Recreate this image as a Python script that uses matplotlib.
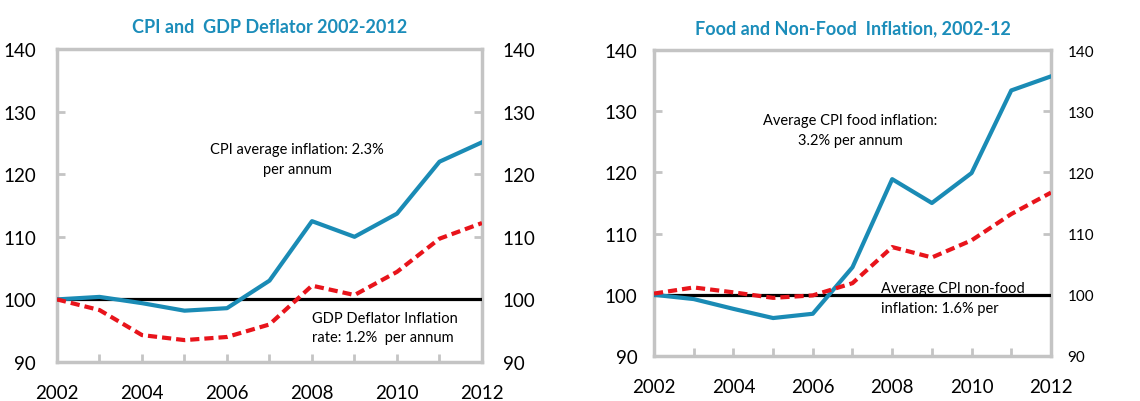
"""
CPI / GDP deflator and food / non-food CPI indices, 2002-2012 (2002 = 100)
"""

import matplotlib
matplotlib.use('Agg')
import matplotlib.pyplot as plt
import matplotlib as mpl

#%% global plot settings

mpl.rcParams['font.family'] = ['Lato', 'DejaVu Sans']
mpl.rcParams['xtick.direction'] = 'in'
mpl.rcParams['ytick.direction'] = 'in'

#%% data (index, 2002 = 100)

years = [2002, 2003, 2004, 2005, 2006, 2007, 2008, 2009, 2010, 2011, 2012]

cpi = [100.0, 100.4, 99.4, 98.2, 98.6, 103.0, 112.5, 110.0, 113.7, 122.0, 125.1]
gdp_deflator = [100.0, 98.3, 94.3, 93.5, 94.0, 96.0, 102.2, 100.7, 104.4, 109.7, 112.2]

cpi_food = [100.0, 99.3, 97.7, 96.2, 96.9, 104.5, 118.9, 115.0, 119.9, 133.4, 135.7]
cpi_nonfood = [100.2, 101.2, 100.4, 99.5, 99.9, 101.9, 107.8, 106.1, 108.9, 113.2, 116.7]

year_labels = [2002, 2004, 2006, 2008, 2010, 2012]
y_ticks = [90, 100, 110, 120, 130, 140]

titles = ['CPI and  GDP Deflator 2002-2012',
          'Food and Non-Food  Inflation, 2002-12']

#%% plot

blue = '#1A8BB5'
red = '#E8141B'
teal = '#1B8DBA'
frame = '#C4C4C4'

fig = plt.figure(figsize=(11.4, 4.02), dpi=100)
ax1 = fig.add_axes([0.050, 0.097, 0.3728, 0.7786])
ax2 = fig.add_axes([0.5737, 0.112, 0.3482, 0.761])


def style_axes(ax, title, right_size):
    ax.set_xlim(2002, 2012)
    ax.set_ylim(90, 140)
    ax.set_xticks(years, minor=True)
    ax.set_xticks(year_labels)
    ax.set_xticklabels([str(y) for y in year_labels], fontsize=13.5)
    ax.set_yticks(y_ticks)
    ax.tick_params(axis='x', which='both', length=6, width=2, color=frame,
                   pad=16)
    ax.tick_params(axis='y', length=6, width=2, color=frame, labelsize=13.5,
                   pad=15, left=True, right=True, labelright=True)
    for spine in ax.spines.values():
        spine.set_color(frame)
        spine.set_linewidth(2.5)
    ax.set_title(title, color=teal, fontsize=13, fontweight='bold', pad=12)
    # right-hand labels
    for t in ax.yaxis.get_major_ticks():
        t.label2.set_fontsize(right_size)


style_axes(ax1, titles[0], 13.5)
style_axes(ax2, titles[1], 11)
ax2.tick_params(axis='y', which='major', pad=12)

# left panel
ax1.axhline(100, color='k', linewidth=2.3, zorder=3)
ax1.plot(years, cpi, color=blue, linewidth=3, zorder=4)
ax1.plot(years, gdp_deflator, color=red, linewidth=3,
         linestyle=(0, (2.2, 1.2)), zorder=4)
ax1.text(2007.65, 122.4, 'CPI average inflation: 2.3%\nper annum',
         ha='center', va='center', fontsize=10.5, linespacing=1.5)
ax1.text(2008.0, 95.5, 'GDP Deflator Inflation\nrate: 1.2%  per annum',
         ha='left', va='center', fontsize=10.5, linespacing=1.5)

# right panel
ax2.axhline(100, color='k', linewidth=2.3, zorder=3)
ax2.plot(years, cpi_food, color=blue, linewidth=3, zorder=4)
ax2.plot(years, cpi_nonfood, color=red, linewidth=3,
         linestyle=(0, (2.2, 1.2)), zorder=4)
ax2.text(2006.94, 126.9, 'Average CPI food inflation:\n3.2% per annum',
         ha='center', va='center', fontsize=10.5, linespacing=1.5)
ax2.text(2007.72, 99.45, 'Average CPI non-food\ninflation: 1.6% per',
         ha='left', va='center', fontsize=10.5, linespacing=1.5, zorder=2)

fig.savefig('out.png', dpi=100)
